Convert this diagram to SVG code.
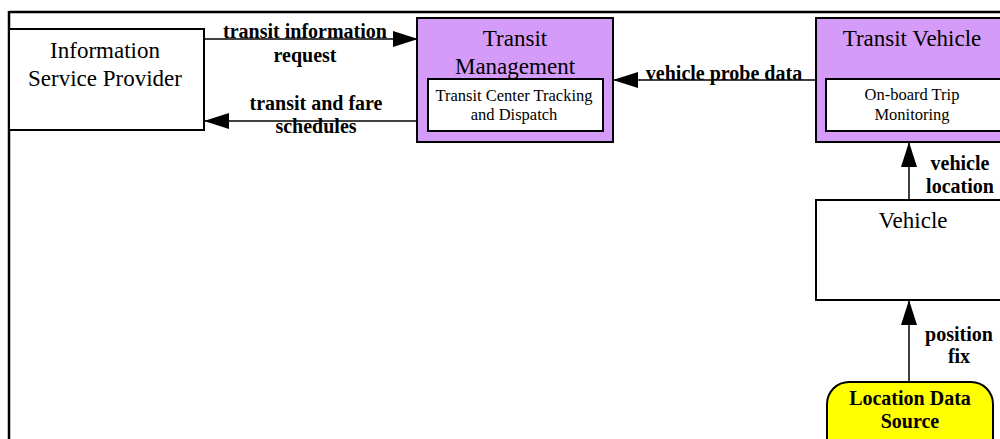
<svg xmlns="http://www.w3.org/2000/svg" width="1000" height="439" viewBox="0 0 1000 439">
<style>
.box{fill:#fff;stroke:#000;stroke-width:2}
.pbox{fill:#D59BF9;stroke:#000;stroke-width:2}
.ybox{fill:#FFFF00;stroke:#000;stroke-width:2}
.t{font-family:"Liberation Serif","Times New Roman",serif;fill:#000;text-anchor:middle}
.big{font-size:23px}
.small{font-size:16.5px}
.lbl{font-family:"Liberation Serif","Times New Roman",serif;font-weight:bold;font-size:20px;fill:#000;text-anchor:middle}
.con{stroke:#000;stroke-width:1.5;fill:none}
</style>
<defs>
<marker id="ah" markerUnits="userSpaceOnUse" markerWidth="26" markerHeight="18" refX="25" refY="8" orient="auto" viewBox="0 0 26 18">
<path d="M0,0 L25,8 L0,16 Z" fill="#000"/>
</marker>
</defs>
<g id="frame">
<line x1="9" y1="12" x2="1000" y2="12" stroke="#000" stroke-width="2.5"/>
<line x1="9" y1="11" x2="9" y2="439" stroke="#000" stroke-width="2.5"/>
</g>
<g id="isp">
<rect class="box" x="9" y="29" width="195" height="101"/>
<text class="t big" x="105" y="58">Information</text>
<text class="t big" x="105" y="86">Service Provider</text>
</g>
<g id="tm">
<rect class="pbox" x="417" y="18" width="196" height="124"/>
<text class="t big" x="515" y="46">Transit</text>
<text class="t big" x="515" y="74">Management</text>
<rect class="box" x="428" y="79" width="175" height="52"/>
<text class="t small" x="514" y="101">Transit Center Tracking</text>
<text class="t small" x="514" y="120">and Dispatch</text>
</g>
<g id="tv">
<rect class="pbox" x="816" y="18" width="196" height="124"/>
<text class="t big" x="912" y="46">Transit Vehicle</text>
<rect class="box" x="826" y="79" width="178" height="52"/>
<text class="t small" x="912" y="100">On-board Trip</text>
<text class="t small" x="912" y="120">Monitoring</text>
</g>
<g id="vehicle">
<rect class="box" x="816" y="200" width="196" height="100"/>
<text class="t big" x="913" y="228">Vehicle</text>
</g>
<g id="lds">
<rect class="ybox" x="827" y="382" width="166" height="80" rx="22" ry="22"/>
<text class="lbl" x="910" y="405">Location Data</text>
<text class="lbl" x="910" y="428">Source</text>
</g>
<g id="connectors">
<line class="con" x1="204" y1="39" x2="418" y2="39" marker-end="url(#ah)"/>
<line class="con" x1="418" y1="121" x2="204" y2="121" marker-end="url(#ah)"/>
<line class="con" x1="816" y1="80" x2="613" y2="80" marker-end="url(#ah)"/>
<line class="con" x1="909" y1="200" x2="909" y2="142" marker-end="url(#ah)"/>
<line class="con" x1="909" y1="382" x2="909" y2="300" marker-end="url(#ah)"/>
<text class="lbl" x="305" y="38">transit information</text>
<text class="lbl" x="305" y="62">request</text>
<text class="lbl" x="316" y="110">transit and fare</text>
<text class="lbl" x="316" y="133">schedules</text>
<text class="lbl" x="724" y="80">vehicle probe data</text>
<text class="lbl" x="960" y="170">vehicle</text>
<text class="lbl" x="960" y="193">location</text>
<text class="lbl" x="959" y="341">position</text>
<text class="lbl" x="959" y="363">fix</text>
</g>
</svg>
